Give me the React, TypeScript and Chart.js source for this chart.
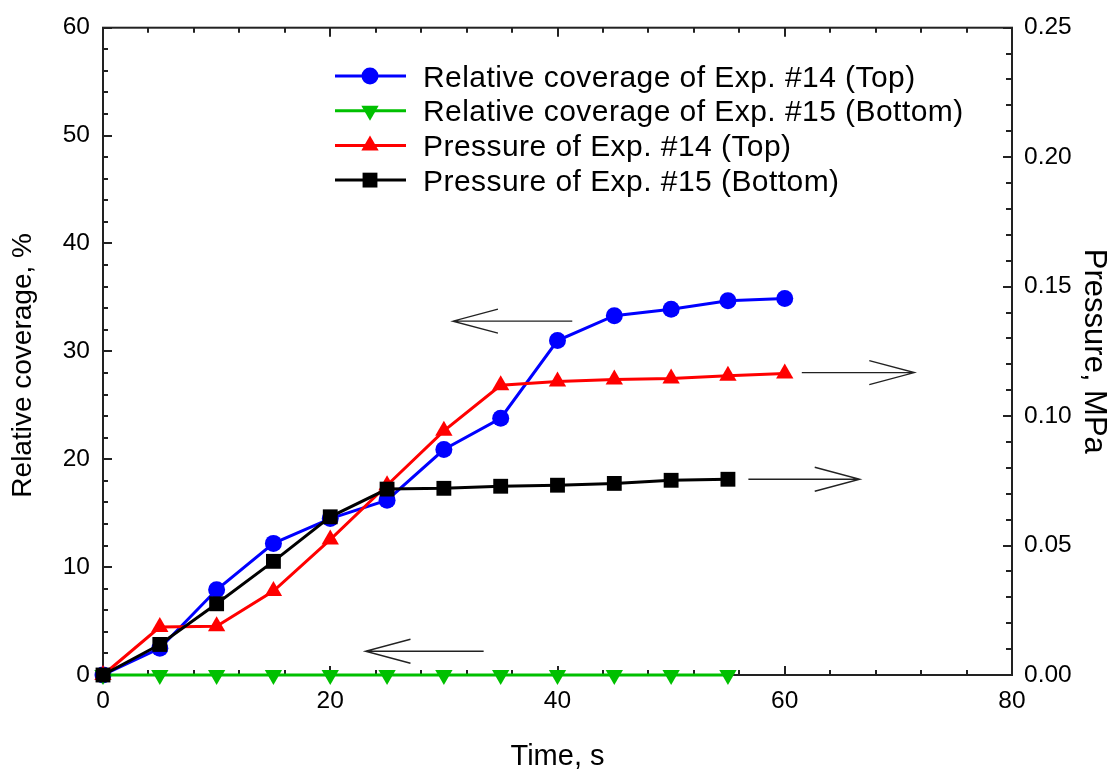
import React, { useEffect, useRef } from 'react';
import { Chart, registerables } from 'chart.js';

Chart.register(...registerables);

const FONT = "'Liberation Sans', Arial, Helvetica, sans-serif";

// ---- data ----
const timeTop = [0, 5, 10, 15, 20, 25, 30, 35, 40, 45, 50, 55, 60];
const timeBottom = [0, 5, 10, 15, 20, 25, 30, 35, 40, 45, 50, 55];
const coverageTop = [0, 2.47, 7.9, 12.2, 14.5, 16.2, 20.9, 23.8, 31.0, 33.3, 33.9, 34.7, 34.9];
const coverageBottom = [0, 0, 0, 0, 0, 0, 0, 0, 0, 0, 0, 0];
const pressureTop = [0, 0.0185, 0.0188, 0.0324, 0.0523, 0.0733, 0.0943, 0.1119, 0.1134, 0.1141, 0.1145, 0.1156, 0.1164];
const pressureBottom = [0, 0.0118, 0.0275, 0.0439, 0.0611, 0.0718, 0.0721, 0.0729, 0.0733, 0.074, 0.0752, 0.0756];

const seriesLabels = [
  'Relative coverage of Exp. #14 (Top)',
  'Relative coverage of Exp. #15 (Bottom)',
  'Pressure of Exp. #14 (Top)',
  'Pressure of Exp. #15 (Bottom)',
];

const xTitle = 'Time, s';
const yTitle = 'Relative coverage, %';
const y1Title = 'Pressure, MPa';

// arrows: data coordinates (from -> to along x, at a y value of the given axis)
const arrows = [
  { from: 41.3, to: 30.8, value: 32.8, axis: 'y' },
  { from: 33.5, to: 23.1, value: 2.2, axis: 'y' },
  { from: 61.5, to: 71.4, value: 0.1168, axis: 'y1' },
  { from: 56.8, to: 66.6, value: 0.0756, axis: 'y1' },
];

// minor tick steps
const xMinorStep = 4;
const yMinorStep = 2;
const y1MinorStep = 0.01;

const toPoints = (xs: number[], ys: number[]) => xs.map((x, i) => ({ x, y: ys[i] }));

function drawMarker(ctx: CanvasRenderingContext2D, style: string, x: number, y: number, r: number, rotationDeg: number, color: string) {
  ctx.save();
  ctx.fillStyle = color;
  ctx.beginPath();
  if (style === 'circle') {
    ctx.arc(x, y, r, 0, Math.PI * 2);
  } else if (style === 'triangle') {
    let rad = (rotationDeg * Math.PI) / 180;
    const t = (2 * Math.PI) / 3;
    ctx.moveTo(x + Math.sin(rad) * r, y - Math.cos(rad) * r);
    rad += t;
    ctx.lineTo(x + Math.sin(rad) * r, y - Math.cos(rad) * r);
    rad += t;
    ctx.lineTo(x + Math.sin(rad) * r, y - Math.cos(rad) * r);
    ctx.closePath();
  } else {
    const s = Math.SQRT1_2 * r;
    ctx.rect(x - s, y - s, 2 * s, 2 * s);
  }
  ctx.fill();
  ctx.restore();
}

const framePlugin = {
  id: 'frame',
  beforeDatasetsDraw(chart: any) {
    const { ctx, chartArea } = chart;
    const { left, right, top, bottom } = chartArea;
    const xs = chart.scales.x;
    const ys = chart.scales.y;
    const y1s = chart.scales.y1;
    ctx.save();
    ctx.strokeStyle = '#222';
    ctx.lineWidth = 2;
    ctx.beginPath();
    // x ticks (bottom + top)
    for (let v = xs.min; v <= xs.max + 1e-9; v += xMinorStep) {
      const px = Math.round(xs.getPixelForValue(v));
      const major = Math.abs(v % 20) < 1e-6;
      const len = major ? 9 : 5;
      ctx.moveTo(px, bottom);
      ctx.lineTo(px, bottom - len);
      ctx.moveTo(px, top);
      ctx.lineTo(px, top + len);
    }
    // left ticks
    for (let v = ys.min; v <= ys.max + 1e-9; v += yMinorStep) {
      const py = Math.round(ys.getPixelForValue(v));
      const major = Math.abs(v % 10) < 1e-6;
      const len = major ? 9 : 5;
      ctx.moveTo(left, py);
      ctx.lineTo(left + len, py);
    }
    // right ticks
    for (let i = 0; i <= Math.round(y1s.max / y1MinorStep); i++) {
      const v = i * y1MinorStep;
      const py = Math.round(y1s.getPixelForValue(v));
      const major = i % 5 === 0;
      const len = major ? 9 : 6;
      ctx.moveTo(right, py);
      ctx.lineTo(right - len, py);
    }
    ctx.stroke();
    ctx.strokeRect(left, top, right - left, bottom - top);
    ctx.restore();
  },
  afterDraw(chart: any) {
    const { ctx, chartArea } = chart;
    const xs = chart.scales.x;
    // arrows
    ctx.save();
    ctx.strokeStyle = '#222';
    ctx.lineWidth = 1.4;
    arrows.forEach((a) => {
      const sc = chart.scales[a.axis];
      const py = sc.getPixelForValue(a.value);
      const p1 = xs.getPixelForValue(a.from);
      const p2 = xs.getPixelForValue(a.to);
      const dir = p2 > p1 ? 1 : -1;
      ctx.beginPath();
      ctx.moveTo(p1, py);
      ctx.lineTo(p2, py);
      ctx.moveTo(p2 - dir * 45, py - 12);
      ctx.lineTo(p2, py);
      ctx.lineTo(p2 - dir * 45, py + 12);
      ctx.stroke();
    });
    ctx.restore();

    // left axis title
    ctx.save();
    ctx.font = `28px ${FONT}`;
    ctx.fillStyle = '#000';
    ctx.textAlign = 'center';
    ctx.textBaseline = 'middle';
    ctx.translate(23, (chartArea.top + chartArea.bottom) / 2 + 14);
    ctx.rotate(-Math.PI / 2);
    ctx.fillText(yTitle, 0, 0);
    ctx.restore();

    // legend
    const lx1 = 335;
    const lx2 = 406;
    const mx = 370;
    const tx = 423;
    const y0 = 76;
    const dy = 34.7;
    ctx.save();
    ctx.font = `30px ${FONT}`;
    try { (ctx as any).letterSpacing = '0.45px'; } catch (e) { /* ignore */ }
    ctx.textBaseline = 'alphabetic';
    ctx.textAlign = 'left';
    chart.data.datasets.forEach((ds: any, i: number) => {
      const yy = y0 + i * dy;
      ctx.strokeStyle = ds.borderColor;
      ctx.lineWidth = 3;
      ctx.beginPath();
      ctx.moveTo(lx1, yy);
      ctx.lineTo(lx2, yy);
      ctx.stroke();
      drawMarker(ctx, ds.pointStyle, mx, yy, ds.pointRadius, ds.pointRotation || 0, ds.backgroundColor);
      ctx.fillStyle = '#000';
      ctx.fillText(ds.label, tx, yy + 10.5);
    });
    ctx.restore();
  },
};

export default function App() {
  const ref = useRef<HTMLCanvasElement>(null);
  useEffect(() => {
    const tickFont = { family: FONT, size: 24.5 };
    const chart = new Chart(ref.current as HTMLCanvasElement, {
      type: 'line',
      data: {
        datasets: [
          {
            label: seriesLabels[0],
            data: toPoints(timeTop, coverageTop),
            yAxisID: 'y',
            borderColor: '#0000ff',
            backgroundColor: '#0000ff',
            borderWidth: 3,
            pointStyle: 'circle',
            pointRadius: 8.5,
            pointBorderWidth: 0,
            tension: 0,
            clip: false,
            order: 3,
          } as any,
          {
            label: seriesLabels[1],
            data: toPoints(timeBottom, coverageBottom),
            yAxisID: 'y',
            borderColor: '#00c000',
            backgroundColor: '#00c000',
            borderWidth: 3,
            pointStyle: 'triangle',
            pointRotation: 180,
            pointRadius: 10,
            pointBorderWidth: 0,
            tension: 0,
            clip: false,
            order: 2,
          } as any,
          {
            label: seriesLabels[2],
            data: toPoints(timeTop, pressureTop),
            yAxisID: 'y1',
            borderColor: '#ff0000',
            backgroundColor: '#ff0000',
            borderWidth: 3,
            pointStyle: 'triangle',
            pointRadius: 10,
            pointBorderWidth: 0,
            tension: 0,
            clip: false,
            order: 1,
          } as any,
          {
            label: seriesLabels[3],
            data: toPoints(timeBottom, pressureBottom),
            yAxisID: 'y1',
            borderColor: '#000000',
            backgroundColor: '#000000',
            borderWidth: 3,
            pointStyle: 'rect',
            pointRadius: 10.5,
            pointBorderWidth: 0,
            tension: 0,
            clip: false,
            order: 0,
          } as any,
        ],
      },
      options: {
        responsive: false,
        animation: false,
        events: [],
        layout: { padding: { top: 20, left: 0, right: 0, bottom: 0 } },
        plugins: { legend: { display: false }, tooltip: { enabled: false } },
        scales: {
          x: {
            type: 'linear',
            position: 'bottom',
            min: 0,
            max: 80,
            ticks: { stepSize: 20, font: tickFont, color: '#000', padding: 12, maxRotation: 0 },
            grid: { display: false, drawTicks: false },
            border: { display: false },
            title: { display: true, text: xTitle, color: '#000', font: { family: FONT, size: 29 }, padding: { top: 0, bottom: 1 } },
            afterFit: (s: any) => { s.height = 100; },
          },
          y: {
            type: 'linear',
            position: 'left',
            min: 0,
            max: 60,
            ticks: { stepSize: 10, font: tickFont, color: '#000', padding: 13 },
            grid: { display: false, drawTicks: false },
            border: { display: false },
            title: { display: false },
            afterFit: (s: any) => { s.width = 103; },
          },
          y1: {
            type: 'linear',
            position: 'right',
            min: 0,
            max: 0.25,
            ticks: { stepSize: 0.05, font: tickFont, color: '#000', padding: 12, callback: (v: any) => Number(v).toFixed(2) },
            grid: { display: false, drawTicks: false },
            border: { display: false },
            title: { display: true, text: y1Title, color: '#000', font: { family: FONT, size: 31 }, padding: { top: 5, bottom: 0 } },
            afterFit: (s: any) => { s.width = 105; },
          },
        },
      } as any,
      plugins: [framePlugin],
    });
    return () => chart.destroy();
  }, []);

  return (
    <div style={{ position: 'absolute', left: 0, top: 0, width: 1117, height: 775, background: '#fff' }}>
      <canvas ref={ref} width={1117} height={775} style={{ display: 'block', width: 1117, height: 775 }} />
    </div>
  );
}
